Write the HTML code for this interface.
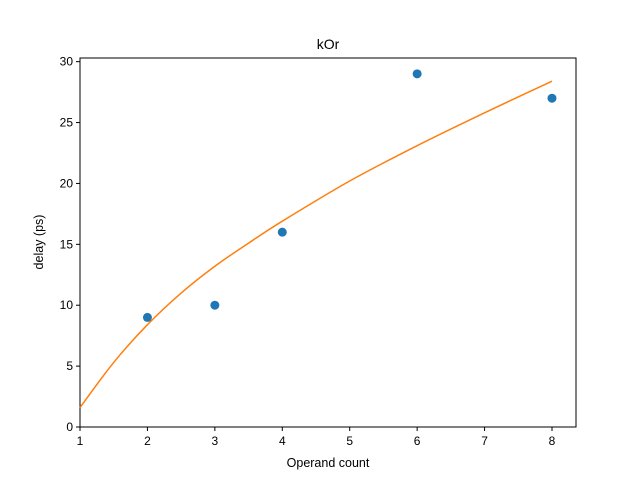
<!DOCTYPE html>
<html><head><meta charset="utf-8"><style>
body{margin:0;background:#fff}
svg text{font-family:"Liberation Sans","DejaVu Sans",sans-serif;fill:#000}
</style></head><body>
<svg id="chart" width="640" height="480" xmlns="http://www.w3.org/2000/svg"></svg>
<script>
const pointX=[2,3,4,6,8];
const pointY=[9,10,16,29,27];
const fitX=[1,1.5,2,2.5,3,3.5,4,5,6,7,8];
const fitY=[1.6,5.3,8.4,11.0,13.2,15.1,16.9,20.2,23.1,25.8,28.4];
const xTicks=[1,2,3,4,5,6,7,8];
const yTicks=[0,5,10,15,20,25,30];
const L=80,R=576,T=58,B=427,xmin=1,xmax=8.356,ymin=0,ymax=30.3;
const sx=v=>L+(v-xmin)/(xmax-xmin)*(R-L);
const sy=v=>B-(v-ymin)/(ymax-ymin)*(B-T);
const svg=document.getElementById('chart');
const NS='http://www.w3.org/2000/svg';
function mk(t,a){const e=document.createElementNS(NS,t);for(const k in a)e.setAttribute(k,a[k]);svg.appendChild(e);return e;}
let e;
e=mk('rect',{x:L,y:T,width:R-L,height:B-T,fill:'#fff',stroke:'#000','stroke-width':1});


xTicks.forEach(v=>{const x=sx(v);
 let l=mk('line',{x1:x,x2:x,y1:B,y2:B+4,stroke:'#000'});
 
 
 let t=mk('text',{x:x,y:B+18,'text-anchor':'middle','font-size':12});t.textContent=v;
 
 });
yTicks.forEach(v=>{const y=sy(v);
 let l=mk('line',{x1:L-4,x2:L,y1:y,y2:y,stroke:'#000'});
 
 
 let t=mk('text',{x:L-7,y:y+4,'text-anchor':'end','font-size':12});t.textContent=v;
 
 });
const P=fitX.map((x,i)=>[sx(x),sy(fitY[i])]);
let d='M'+P[0][0]+','+P[0][1];
for(let i=0;i<P.length-1;i++){const p0=P[Math.max(0,i-1)],p1=P[i],p2=P[i+1],p3=P[Math.min(P.length-1,i+2)];
 d+=' C'+(p1[0]+(p2[0]-p0[0])/6)+','+(p1[1]+(p2[1]-p0[1])/6)+' '+(p2[0]-(p3[0]-p1[0])/6)+','+(p2[1]-(p3[1]-p1[1])/6)+' '+p2[0]+','+p2[1];}
e=mk('path',{d:d,fill:'none',stroke:'#ff7f0e','stroke-width':1.5});


pointX.forEach((x,i)=>{let c=mk('circle',{cx:sx(x),cy:sy(pointY[i]),r:4.5,fill:'#1f77b4'});
 
 });
e=mk('text',{x:328,y:49,'text-anchor':'middle','font-size':14});e.textContent='kOr';


e=mk('text',{x:328,y:467,'text-anchor':'middle','font-size':12.5});e.textContent='Operand count';


e=mk('text',{x:0,y:0,'text-anchor':'middle','font-size':12.5,transform:'translate(43,242) rotate(-90)'});e.textContent='delay (ps)';


</script>
</body></html>
